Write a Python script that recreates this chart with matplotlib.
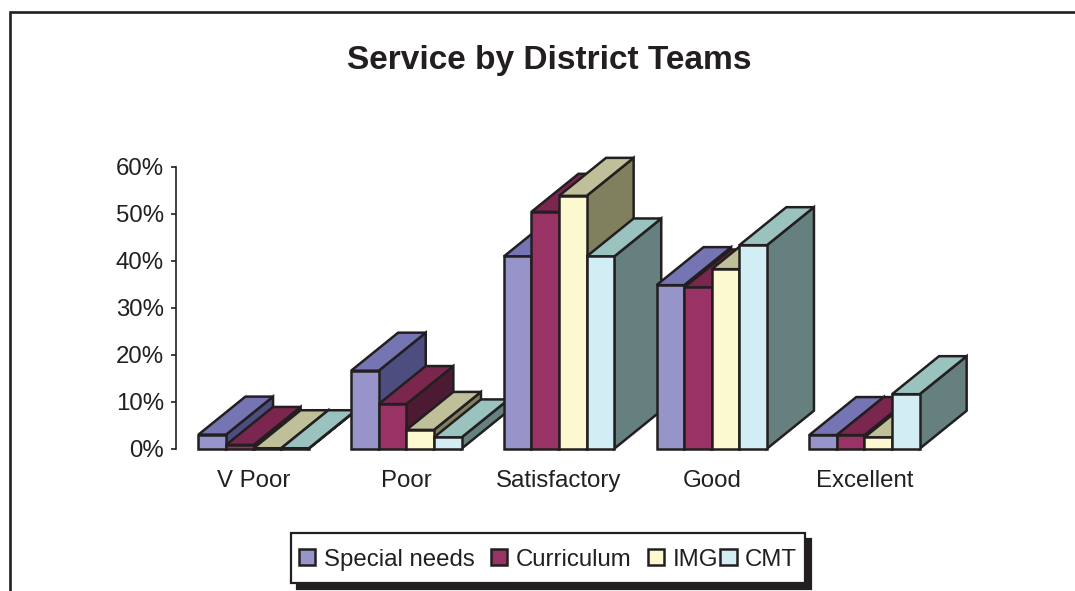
import matplotlib
matplotlib.use("Agg")
import matplotlib.pyplot as plt
from matplotlib.legend_handler import HandlerPatch
from matplotlib.lines import Line2D
from matplotlib.offsetbox import HPacker
from matplotlib.patches import Patch, Rectangle
from matplotlib.ticker import FuncFormatter

plt.rcParams['font.family'] = ['Liberation Sans', 'DejaVu Sans']

categories = ["V Poor", "Poor", "Satisfactory", "Good", "Excellent"]
special_needs = [3.0, 16.6, 40.9, 34.8, 2.9]
curriculum = [0.8, 9.5, 50.4, 34.3, 2.9]
img = [0.1, 4.0, 53.8, 38.2, 2.4]
cmt = [0.1, 2.4, 40.9, 43.3, 11.6]

series_names = ["Special needs", "Curriculum", "IMG", "CMT"]
series_values = [special_needs, curriculum, img, cmt]
front_colors = ["#9694C8", "#993366", "#FCF8CF", "#D2EDF3"]
top_colors = ["#7675B4", "#7A264F", "#BFBF99", "#9AC2BF"]
side_colors = ["#4D4D80", "#4D1A33", "#80805F", "#668080"]
INK = "#231F20"

W, H = 1075, 591
fig = plt.figure(figsize=(W / 100, H / 100), dpi=100, facecolor="white")

# chart frame: only the left and top edges fall inside the image
fig.add_artist(Line2D([9.5 / W, 9.5 / W, 1.01], [-0.01, 1 - 11.5 / H, 1 - 11.5 / H],
                      transform=fig.transFigure, color=INK, lw=1.9, solid_joinstyle="miter"))

ax_l, ax_r, ax_b, ax_t = 176, 939.5, 448.7, 166.7
ax = fig.add_axes([ax_l / W, 1 - ax_b / H, (ax_r - ax_l) / W, (ax_b - ax_t) / H])
ax.set_xlim(-0.5085, 4.4915)
ax.set_ylim(0, 60)
ax.patch.set_alpha(0)

px_x = 5 / (ax_r - ax_l)
px_y = 60 / (ax_b - ax_t)
bar_w = 27.6 * px_x
dx = 47 * px_x
dy = 38 * px_y
lw = 1.8

z = 3
for g in range(len(categories)):
    for s, vals in enumerate(series_values):
        v = vals[g]
        x0 = g + (s - 2) * bar_w
        x1 = x0 + bar_w
        ax.fill([x1, x1 + dx, x1 + dx, x1], [0, dy, v + dy, v], fc=side_colors[s], ec=INK,
                lw=lw, zorder=z, clip_on=False, joinstyle="miter")
        ax.fill([x0, x0 + dx, x1 + dx, x1], [v, v + dy, v + dy, v], fc=top_colors[s], ec=INK,
                lw=lw, zorder=z + 0.1, clip_on=False, joinstyle="miter")
        ax.bar(x0, v, width=bar_w, align="edge", color=front_colors[s], edgecolor=INK,
               linewidth=lw, zorder=z + 0.2, clip_on=False)
        z += 1

for sp in ("top", "right", "bottom"):
    ax.spines[sp].set_visible(False)
ax.spines["left"].set_color(INK)
ax.spines["left"].set_linewidth(1.2)
ax.set_yticks([0, 10, 20, 30, 40, 50, 60])
ax.yaxis.set_major_formatter(FuncFormatter(lambda v, _: f"{v:.0f}%"))
ax.tick_params(axis="y", length=3.8, width=1.2, color=INK, labelsize=17.3, labelcolor=INK, pad=5)
ax.set_xticks(range(len(categories)))
ax.set_xticklabels(categories)
ax.tick_params(axis="x", length=0, labelsize=17.3, labelcolor=INK, pad=15.2)

fig.text(549 / W, 1 - 61 / H, "Service by District Teams", ha="center", va="center",
         fontsize=24.1, fontweight="bold", color=INK)


def square_handle(legend, orig_handle, xdescent, ydescent, width, height, fontsize):
    return Rectangle((-xdescent, 0.6), width, width)


handles = [Patch(fc=c, ec=INK, lw=1.8) for c in front_colors]
leg = fig.legend(handles, series_names, loc="center", bbox_to_anchor=(548 / W, 1 - 558 / H),
                 bbox_transform=fig.transFigure, ncol=4, fontsize=17.3, frameon=True, fancybox=False,
                 edgecolor=INK, facecolor="white", framealpha=1, handlelength=0.68, handleheight=1.85,
                 handletextpad=0.35, columnspacing=0.7, borderpad=0.32, borderaxespad=0,
                 labelcolor=INK, handler_map={Patch: HandlerPatch(patch_func=square_handle)},
                 shadow={"ox": 4.3, "oy": -4.3, "fc": INK, "alpha": 1, "ec": INK})
leg.get_frame().set_linewidth(1.6)

# the last legend column sits closer to its neighbour than the others
row = leg._legend_handle_box
cols = row.get_children()
first = HPacker(pad=0, sep=16.5 / 1.389, align="baseline", children=cols[:3])
first.set_figure(fig)
row._children = [first, cols[3]]
row.sep = 2 / 1.389

fig.savefig("out.png", dpi=100, facecolor="white")
